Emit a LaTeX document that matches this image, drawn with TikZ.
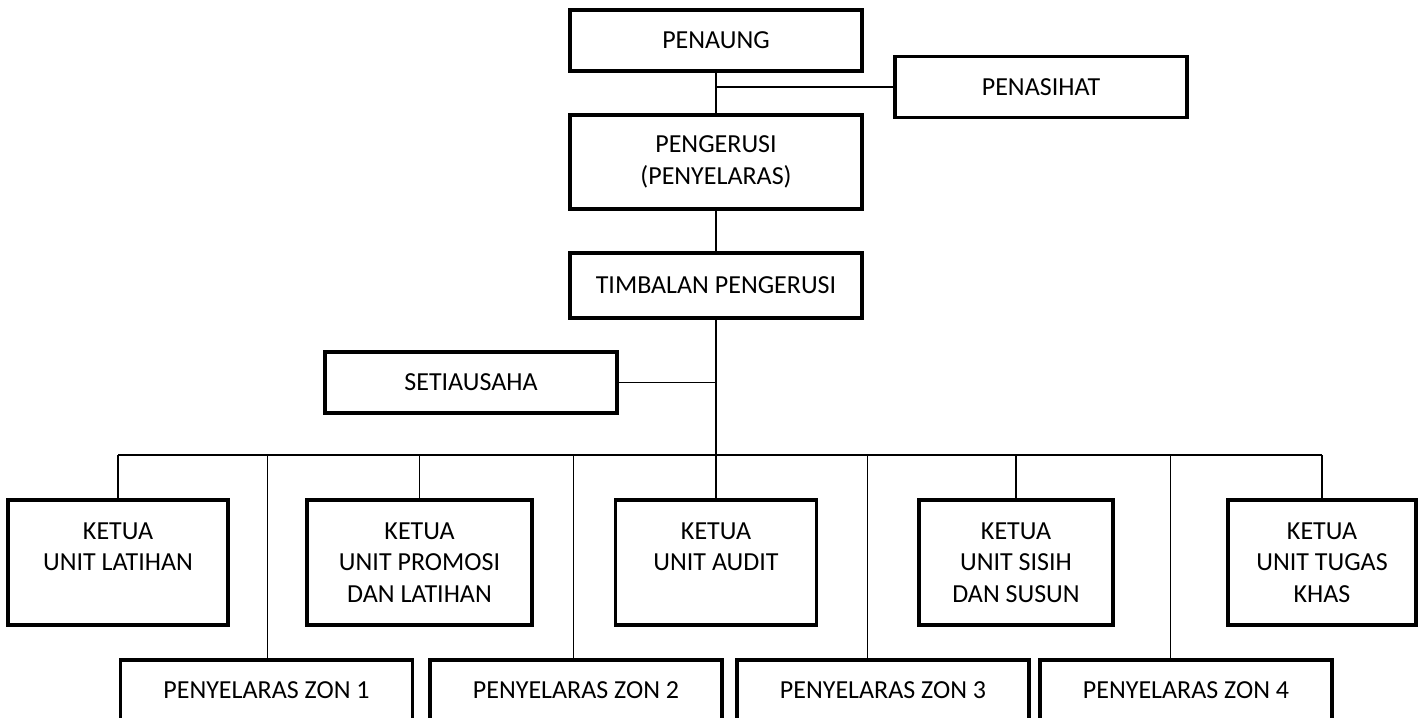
\documentclass[tikz,border=0pt]{standalone}
\usepackage{fontspec}
\setmainfont{Carlito}
\usetikzlibrary{positioning,calc}

\begin{document}
\begin{tikzpicture}
    \clip (0,0) rectangle (28.38,-14.34);

    \tikzset{box/.style={draw,line width=1.9pt,minimum width=5.84cm,minimum height=1.22cm,
            inner sep=2pt,align=center,font=\fontsize{14.8}{18}\selectfont},
        ketua/.style={box,minimum height=2.5cm},
        line/.style={line width=0.8pt}}
    \node[box] at (14.32,-0.81) (pg) {PENAUNG};
    \node[box] at (20.82,-1.74) (ps) {PENASIHAT};
    \node[box,minimum height=1.88cm] at (14.32,-3.24) (pe) {PENGERUSI\\(PENYELARAS)};
    \node[box,minimum height=1.3cm] at (14.32,-5.71) (tp) {TIMBALAN PENGERUSI};
    \node[box] at (9.42,-7.65) (su) {SETIAUSAHA};
    \coordinate (bus) at (14.32,-9.1);

    \node[ketua,minimum width=4.4cm ] at (2.36 ,-11.25) (k1) {KETUA\\UNIT LATIHAN\\\mbox{}};
    \node[ketua,minimum width=4.5cm ] at (8.39 ,-11.25) (k2) {KETUA\\UNIT PROMOSI\\DAN LATIHAN};
    \node[ketua,minimum width=4.02cm] at (14.32,-11.25) (k3) {KETUA\\UNIT AUDIT\\\mbox{}};
    \node[ketua,minimum width=3.88cm] at (20.32,-11.25) (k4) {KETUA\\UNIT SISIH\\DAN SUSUN};
    \node[ketua,minimum width=3.76cm] at (26.44,-11.25) (k5) {KETUA\\UNIT TUGAS\\KHAS};

    \node[box] at (5.33 ,-13.81) (z1) {PENYELARAS ZON 1};
    \node[box] at (11.52,-13.81) (z2) {PENYELARAS ZON 2};
    \node[box] at (17.66,-13.81) (z3) {PENYELARAS ZON 3};
    \node[box] at (23.72,-13.81) (z4) {PENYELARAS ZON 4};

    \draw[line] (pg) -- (pe);
    \draw[line] (ps.west) -- (ps.west -| pg.south);
    \draw[line] (pe) -- (tp);
    \draw[line] (tp.south) -- (bus);
    \draw[line] (su.east) -- (su.east -| tp.south);
    \draw[line] (k1.north |- bus) -- (k5.north |- bus);
    \foreach \k in {k1,k2,k3,k4,k5}
        \draw[line] (\k.north |- bus) -- (\k.north);
    \foreach \a/\b/\z in {k1/k2/z1,k2/k3/z2,k3/k4/z3,k4/k5/z4}{
        \coordinate (m\z) at ($(\a.east)!0.5!(\b.west)$);
        \draw[line] (m\z |- bus) -- (m\z |- \z.north);
    }
\end{tikzpicture}
\end{document}
